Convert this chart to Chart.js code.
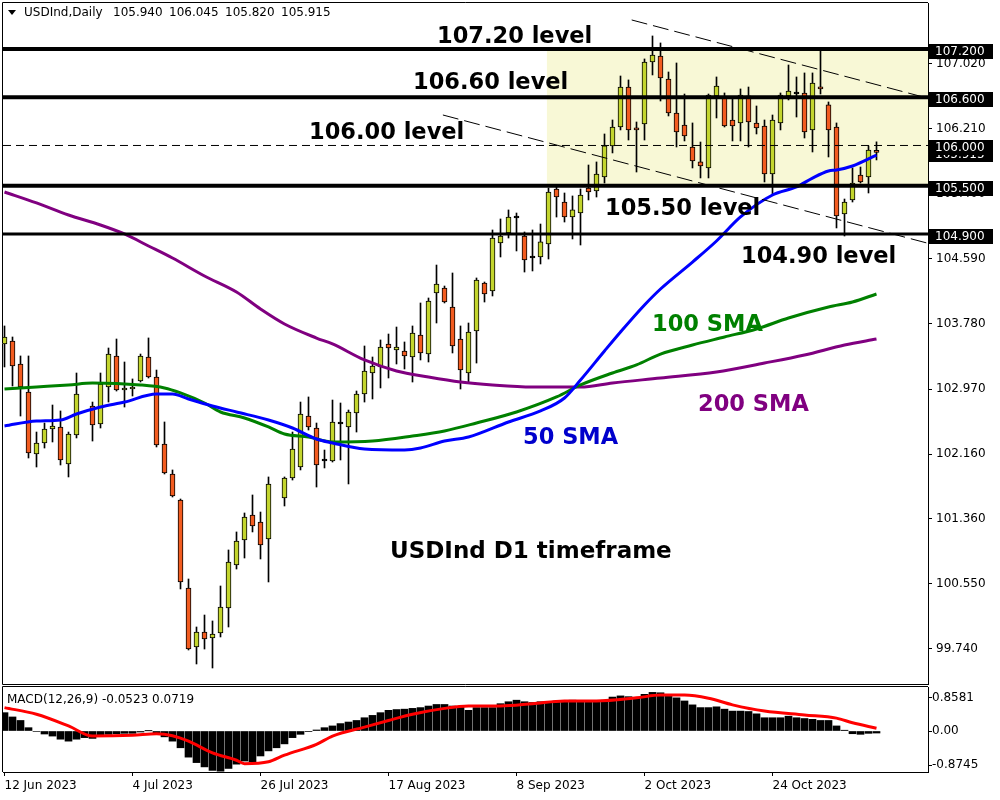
<!DOCTYPE html>
<html>
<head>
<meta charset="utf-8">
<script src="https://cdn.jsdelivr.net/npm/chart.js@4.4.0/dist/chart.umd.min.js"></script>
<style>
body { margin: 0; background: #fff; }
#wrap { position: relative; width: 1000px; height: 800px; background: #fff; }
#priceChart { position: absolute; left: 0; top: 0; }
#macdChart { position: absolute; left: 0; top: 685px; }
</style>
</head>
<body>
<div id="wrap">
<canvas id="priceChart" width="1000" height="687" style="width:1000px;height:687px"></canvas>
<canvas id="macdChart" width="1000" height="115" style="width:1000px;height:115px"></canvas>
</div>
<script>
// daily candles, one slot per bar (null = no candle visible)
var openP = [103.531, 103.568, 103.282, 102.934, 102.163, 102.300, 102.474, 102.499, 102.038, 102.399,
    null, 102.760, 102.536, 102.996, 103.382, 102.959, 102.971, 103.071, 103.369, 103.120,
    102.287, 101.914, 101.590, 100.496, 99.762, 99.949, 99.874, 99.936, 100.247, 100.782,
    101.093, 101.404, 101.317, 101.105, null, 101.615, 101.864, 102.001, 102.635, 102.486,
    102.076, 102.076, 102.536, 102.499, 102.673, 102.909, 103.170, 103.245, 103.531, 103.456,
    103.444, 103.369, 103.643, 103.406, 104.165, 104.227, 103.991, 103.593, 103.170, 103.693,
    104.290, 104.190, 104.787, 104.911, 105.098, 104.874, 104.600, 104.613, 104.775, 105.459,
    105.297, 105.110, 105.160, 105.471, 105.434, 105.608, 105.994, 106.230, 106.727, 106.217,
    106.267, 107.038, 107.113, 106.827, 106.404, 106.255, 105.981, 105.795, 105.720, 106.616,
    106.591, 106.317, 106.280, 106.616, 106.280, 106.242, 105.645, 106.280, 106.616, 106.640,
    106.653, 106.193, 106.727, 106.504, 106.230, 105.148, 105.322, 105.633, 105.608, 105.940];
var highP = [103.755, 103.618, 103.382, 103.382, 102.436, 102.548, 102.772, 102.698, 102.436, 103.170,
    null, 102.809, 103.170, 103.481, 103.593, 103.307, 103.096, 103.406, 103.606, 103.207,
    102.561, 101.964, 101.603, 100.608, 100.011, 100.160, 100.086, 100.521, 100.969, 101.193,
    101.429, 101.653, 101.441, 101.877, null, 101.877, 102.436, 102.809, 102.872, 102.548,
    102.212, 102.834, 102.797, 102.710, 102.946, 103.506, 103.369, 103.581, 103.655, 103.742,
    103.556, 103.755, 104.041, 104.103, 104.513, 104.252, 104.414, 103.755, 103.792, 104.352,
    104.302, 104.949, 105.086, 105.198, 105.160, 104.924, 104.949, 105.023, 105.471, 105.496,
    105.409, 105.372, 105.459, 105.757, 105.795, 106.143, 106.317, 106.864, 106.815, 106.292,
    107.076, 107.362, 107.275, 106.914, 107.026, 106.640, 106.280, 106.043, 106.640, 106.852,
    106.653, 106.578, 106.703, 106.727, 106.491, 106.317, 106.379, 106.653, 107.001, 106.852,
    106.902, 106.902, 107.188, 106.541, 106.280, 105.334, 105.720, 105.732, 105.994, 106.045];
var lowP = [103.245, 103.008, 102.635, 102.113, 102.001, 102.237, 102.312, 102.026, 101.877, 102.362,
    null, 102.324, 102.486, 102.809, 102.946, 102.747, 102.884, 103.058, 103.108, 102.250,
    101.914, 101.628, 100.484, 99.725, 99.551, 99.737, 99.501, 99.887, 100.011, 100.732,
    100.869, 101.193, 100.857, 100.571, null, 101.516, 101.839, 101.964, 102.461, 101.752,
    101.989, 102.063, 102.088, 101.790, 102.436, 102.809, 102.847, 102.984, 103.108, 103.282,
    103.220, 103.058, 103.332, 103.307, 103.792, 104.041, 103.419, 102.971, 103.058, 103.294,
    104.053, 104.128, 104.613, 104.849, 104.688, 104.426, 104.439, 104.526, 104.588, 105.110,
    105.048, 104.837, 104.762, 105.322, 105.359, 105.533, 105.907, 106.193, 106.068, 105.670,
    106.068, 106.877, 106.553, 106.367, 105.981, 106.056, 105.720, 105.596, 105.596, 106.342,
    106.230, 106.056, 106.056, 105.981, 106.143, 105.546, 105.397, 106.193, 106.566, 106.354,
    106.093, 105.919, 106.640, 105.857, 104.974, 104.874, 105.297, 105.533, 105.409, 105.820];
var closeP = [103.618, 103.257, 102.996, 102.175, 102.300, 102.474, 102.511, 102.088, 102.411, 102.909,
    null, 102.523, 103.033, 103.406, 102.959, 102.984, 102.996, 103.382, 103.120, 102.275,
    101.926, 101.640, 100.571, 99.737, 99.949, 99.862, 99.924, 100.260, 100.819, 101.081,
    101.379, 101.267, 101.031, 101.790, null, 101.864, 102.225, 102.660, 102.499, 102.026,
    102.076, 102.561, 102.536, 102.685, 102.909, 103.195, 103.257, 103.494, 103.481, 103.494,
    103.382, 103.668, 103.419, 104.066, 104.277, 104.053, 103.506, 103.207, 103.680, 104.327,
    104.153, 104.849, 104.874, 105.110, 105.098, 104.576, 104.600, 104.800, 105.421, 105.359,
    105.110, 105.198, 105.384, 105.421, 105.645, 105.994, 106.230, 106.727, 106.193, 106.193,
    107.038, 107.125, 106.839, 106.404, 106.168, 106.118, 105.807, 105.745, 106.628, 106.740,
    106.242, 106.242, 106.628, 106.292, 106.217, 105.645, 106.317, 106.628, 106.678, 106.640,
    106.168, 106.777, 106.703, 106.193, 105.123, 105.297, 105.533, 105.546, 105.944, 105.915];

// moving averages, read at a few bars each
var sma50Idx = [0, 4, 7, 9, 12, 15, 19, 21, 23, 26, 29, 33, 36, 39, 41, 45, 50, 52, 55, 58, 63, 67, 70, 72, 75, 77, 80, 82, 86, 89, 92, 96, 99, 101, 103, 104, 106, 109];
var sma50Val = [102.511, 102.573, 102.586, 102.660, 102.747, 102.809, 102.909, 102.909, 102.847, 102.760,
    102.685, 102.586, 102.486, 102.349, 102.300, 102.225, 102.213, 102.237, 102.324, 102.374,
    102.561, 102.698, 102.859, 103.083, 103.444, 103.680, 104.016, 104.215, 104.550, 104.812,
    105.111, 105.384, 105.484, 105.595, 105.683, 105.695, 105.745, 105.881];
var sma100Idx = [0, 4, 8, 11, 17, 20, 22, 25, 27, 30, 33, 35, 38, 41, 46, 51, 55, 59, 64, 69, 72, 76, 79, 82, 86, 90, 94, 98, 103, 106, 109];
var sma100Val = [102.971, 102.996, 103.021, 103.045, 103.021, 102.984, 102.922, 102.797, 102.685, 102.611,
    102.499, 102.411, 102.374, 102.312, 102.324, 102.386, 102.449, 102.548, 102.685, 102.872,
    103.021, 103.170, 103.270, 103.406, 103.518, 103.618, 103.718, 103.854, 103.991, 104.053, 104.153];
var sma200Idx = [0, 4, 8, 12, 15, 18, 21, 25, 29, 32, 35, 39, 41, 45, 49, 53, 57, 61, 66, 72, 76, 82, 89, 95, 100, 105, 109];
var sma200Val = [105.421, 105.285, 105.135, 105.011, 104.899, 104.750, 104.600, 104.377, 104.178, 103.966,
    103.780, 103.605, 103.531, 103.332, 103.195, 103.120, 103.058, 103.021, 102.996, 102.996,
    103.046, 103.108, 103.183, 103.294, 103.394, 103.518, 103.593];

// drawn objects
var levelPrices = [107.2, 106.6, 106.0, 105.5, 104.9];
var lastPrice = 105.915;
var zoneStart = 67.8;
var zonePrices = [107.2, 105.5];
var trendUpperIdx = [78.4, 115.3];
var trendUpperVal = [107.561, 106.591];
var trendLowerIdx = [54.8, 115.3];
var trendLowerVal = [106.379, 104.787];
var priceTicks = [107.020, 106.210, 105.400, 104.590, 103.780, 102.970, 102.160, 101.360, 100.550, 99.740];

// MACD(12,26,9)
var macdHist = [0.47, 0.36, 0.27, 0.085, -0.013, -0.077, -0.13, -0.21, -0.26, -0.21,
    -0.17, -0.19, -0.13, -0.085, -0.07, -0.06, -0.06, -0.026, 0.005, -0.07,
    -0.15, -0.26, -0.43, -0.67, -0.81, -0.92, -1.01, -1.03, -0.96, -0.85,
    -0.77, -0.79, -0.64, -0.51, -0.43, -0.33, -0.17, -0.085, -0.01, 0.026,
    0.085, 0.13, 0.19, 0.23, 0.27, 0.34, 0.40, 0.47, 0.53, 0.55,
    0.56, 0.58, 0.60, 0.64, 0.68, 0.68, 0.64, 0.62, 0.53, 0.60,
    0.60, 0.60, 0.70, 0.75, 0.79, 0.75, 0.73, 0.75, 0.75, 0.77,
    0.77, 0.79, 0.77, 0.77, 0.77, 0.79, 0.87, 0.90, 0.88, 0.85,
    0.94, 0.99, 0.98, 0.90, 0.85, 0.77, 0.67, 0.60, 0.60, 0.62,
    0.56, 0.51, 0.51, 0.50, 0.44, 0.34, 0.34, 0.34, 0.38, 0.34,
    0.32, 0.30, 0.27, 0.27, 0.13, 0.02, -0.07, -0.085, -0.06, -0.052];
var sigIdx = [0, 4, 8, 11, 16, 19, 21, 23, 26, 29, 30, 33, 35, 39, 41, 45, 48, 51, 55, 58, 62, 66, 70, 74, 79, 82, 85, 88, 91, 95, 100, 104, 106, 109];
var sigVal = [0.60, 0.43, 0.13, -0.13, -0.11, -0.07, -0.12, -0.26, -0.56, -0.75,
    -0.84, -0.79, -0.62, -0.34, -0.13, 0.10, 0.27, 0.43, 0.58, 0.64,
    0.64, 0.70, 0.77, 0.77, 0.85, 0.92, 0.92, 0.84, 0.67, 0.51,
    0.41, 0.33, 0.21, 0.072];
var macdTicks = [0.8581, 0, -0.8745];
var macdTickLabels = ['0.8581', '0.00', '-0.8745'];

var dateIdx = [0, 16, 32, 48, 64, 80, 96];
var dateLabels = ['12 Jun 2023', '4 Jul 2023', '26 Jul 2023', '17 Aug 2023', '8 Sep 2023', '2 Oct 2023', '24 Oct 2023'];

var upColor = '#C3D52E';
var downColor = '#F25C20';
var xMin = -0.1875, xMax = 115.4375;

Chart.defaults.font.family = '"DejaVu Sans", sans-serif';
Chart.defaults.font.size = 12;
Chart.defaults.color = '#000';

function pts(idx, val) {
    return idx.map(function (v, k) { return {x: v, y: val[k]}; });
}
function flat(p) {
    return [{x: xMin, y: p}, {x: xMax, y: p}];
}
// keep the plot edges where the frame is, labels may hang over
function fitRight(s) {
    s.width = 72;
    s.paddingTop = 0;
    s.paddingBottom = 0;
}

var wicks = [], bodies = [], bodyColors = [];
for (var i = 0; i < openP.length; i++) {
    if (openP[i] == null) continue;
    wicks.push({x: i, y: [lowP[i], highP[i]]});
    bodies.push({x: i, y: [openP[i], closeP[i]]});
    bodyColors.push(closeP[i] > openP[i] ? upColor : (closeP[i] < openP[i] ? downColor : '#000'));
}

function lineSet(data, color, width, order, dash) {
    return {
        type: 'line', data: data, borderColor: color, borderWidth: width,
        pointRadius: 0, fill: false, order: order, borderDash: dash || [],
        tension: 0.4, cubicInterpolationMode: 'monotone'
    };
}

var notes = [
    ['107.20 level', 437, 43, '#000'],
    ['106.60 level', 413, 89, '#000'],
    ['106.00 level', 309, 139, '#000'],
    ['105.50 level', 605, 215, '#000'],
    ['104.90 level', 741, 263, '#000'],
    ['100 SMA', 652, 331, '#008000'],
    ['200 SMA', 698, 411, '#800080'],
    ['50 SMA', 523, 444, '#0000CC']
];

var priceDecor = {
    id: 'priceDecor',
    beforeDatasetsDraw: function (chart) {
        var ctx = chart.ctx, sx = chart.scales.x, sy = chart.scales.y, a = chart.chartArea;
        var left = sx.getPixelForValue(zoneStart);
        var top = sy.getPixelForValue(zonePrices[0]);
        var bottom = sy.getPixelForValue(zonePrices[1]);
        ctx.save();
        ctx.fillStyle = '#F8F8D6';
        ctx.fillRect(left, top, a.right - left, bottom - top);
        ctx.restore();
    },
    afterDraw: function (chart) {
        var ctx = chart.ctx, sy = chart.scales.y, a = chart.chartArea;
        ctx.save();
        ctx.strokeStyle = '#000';
        ctx.lineWidth = 1;
        ctx.beginPath();
        ctx.moveTo(a.right, a.top - 0.5);
        ctx.lineTo(a.left - 0.5, a.top - 0.5);
        ctx.lineTo(a.left - 0.5, a.bottom + 0.5);
        ctx.lineTo(a.right, a.bottom + 0.5);
        ctx.stroke();

        // price boxes on the axis
        ctx.font = '12px "DejaVu Sans"';
        ctx.textBaseline = 'middle';
        ctx.textAlign = 'left';
        [lastPrice].concat(levelPrices).forEach(function (p) {
            var yy = Math.round(sy.getPixelForValue(p)) + 2;
            ctx.fillStyle = '#000';
            ctx.fillRect(a.right + 1, yy - 7, 64, 15);
            ctx.fillStyle = '#fff';
            ctx.fillText(p.toFixed(3), a.right + 7, yy + 1);
        });

        // header
        ctx.fillStyle = '#000';
        ctx.beginPath();
        ctx.moveTo(8, 10); ctx.lineTo(16, 10); ctx.lineTo(12, 15); ctx.closePath();
        ctx.fill();
        ctx.fillText('USDInd,Daily', 24, 13);
        ['105.940', '106.045', '105.820', '105.915'].forEach(function (t, k) {
            ctx.fillText(t, 113 + k * 56, 13);
        });

        // annotations
        ctx.textBaseline = 'alphabetic';
        ctx.font = 'bold 22.5px "DejaVu Sans"';
        notes.forEach(function (n) {
            ctx.fillStyle = n[3];
            ctx.fillText(n[0], n[1], n[2]);
        });
        ctx.fillStyle = '#000';
        ctx.font = 'bold 23px "DejaVu Sans"';
        ctx.fillText('USDInd D1 timeframe', 390, 558);
        ctx.restore();
    }
};

new Chart(document.getElementById('priceChart'), {
    type: 'bar',
    data: {
        datasets: [
            lineSet(flat(levelPrices[0]), '#000', 4, 1),
            lineSet(flat(levelPrices[1]), '#000', 4, 1),
            lineSet(flat(levelPrices[2]), '#000', 1, 1, [8, 5]),
            lineSet(flat(levelPrices[3]), '#000', 4, 1),
            lineSet(flat(levelPrices[4]), '#000', 3, 1),
            lineSet(pts(trendUpperIdx, trendUpperVal), '#000', 1, 2, [16, 6]),
            lineSet(pts(trendLowerIdx, trendLowerVal), '#000', 1, 2, [16, 6]),
            lineSet(pts(sma50Idx, sma50Val), '#0000FF', 3, 3),
            lineSet(pts(sma100Idx, sma100Val), '#008000', 3, 4),
            lineSet(pts(sma200Idx, sma200Val), '#800080', 3, 5),
            {
                type: 'bar', data: bodies, backgroundColor: bodyColors, borderColor: '#000',
                borderWidth: 1, borderSkipped: false, grouped: false,
                barThickness: 5, maxBarThickness: 5, minBarLength: 2, order: 9
            },
            {
                type: 'bar', data: wicks, backgroundColor: '#000', borderWidth: 0,
                grouped: false, barThickness: 1, maxBarThickness: 1, order: 10
            }
        ]
    },
    options: {
        responsive: false,
        animation: false,
        events: [],
        layout: {padding: {left: 3, top: 3, right: 0, bottom: 3}},
        plugins: {legend: {display: false}, tooltip: {enabled: false}},
        scales: {
            x: {type: 'linear', min: xMin, max: xMax, display: false, offset: false, grid: {offset: false}},
            y: {
                type: 'linear', position: 'right', min: 99.302, max: 107.772,
                afterFit: fitRight,
                afterBuildTicks: function (s) { s.ticks = priceTicks.map(function (v) { return {value: v}; }); },
                grid: {drawOnChartArea: false, drawTicks: true, tickLength: 4, color: '#000'},
                border: {display: true, color: '#000'},
                ticks: {
                    padding: 4, autoSkip: false, color: '#000',
                    callback: function (v) { return Number(v).toFixed(3); }
                }
            }
        }
    },
    plugins: [priceDecor]
});

var macdDecor = {
    id: 'macdDecor',
    afterDraw: function (chart) {
        var ctx = chart.ctx, a = chart.chartArea;
        ctx.save();
        ctx.strokeStyle = '#000';
        ctx.lineWidth = 1;
        ctx.beginPath();
        ctx.moveTo(a.right, a.top - 0.5);
        ctx.lineTo(a.left - 0.5, a.top - 0.5);
        ctx.lineTo(a.left - 0.5, a.bottom);
        ctx.stroke();
        ctx.fillStyle = '#000';
        ctx.font = '12px "DejaVu Sans"';
        ctx.textBaseline = 'middle';
        ctx.fillText('MACD(12,26,9) -0.0523 0.0719', 7, 15);
        ctx.restore();
    }
};

new Chart(document.getElementById('macdChart'), {
    type: 'bar',
    data: {
        datasets: [
            lineSet(pts(sigIdx, sigVal), '#FF0000', 3, 0),
            {
                type: 'bar', data: macdHist.map(function (v, k) { return {x: k, y: v}; }),
                backgroundColor: '#000', borderWidth: 0, barThickness: 7, order: 5
            }
        ]
    },
    options: {
        responsive: false,
        animation: false,
        events: [],
        layout: {padding: {left: 3, top: 2, right: 0, bottom: 0}},
        plugins: {legend: {display: false}, tooltip: {enabled: false}},
        scales: {
            x: {
                type: 'linear', min: xMin, max: xMax, offset: false,
                afterFit: function (s) { s.height = 28; s.paddingLeft = 0; s.paddingRight = 0; },
                afterBuildTicks: function (s) { s.ticks = dateIdx.map(function (v) { return {value: v}; }); },
                grid: {drawOnChartArea: false, drawTicks: true, tickLength: 4, color: '#000', offset: false},
                border: {display: true, color: '#000'},
                ticks: {
                    autoSkip: false, maxRotation: 0, align: 'start', padding: 3, color: '#000',
                    callback: function (v, k) { return dateLabels[k]; }
                }
            },
            y: {
                type: 'linear', position: 'right', min: -1.051, max: 1.128,
                afterFit: fitRight,
                afterBuildTicks: function (s) { s.ticks = macdTicks.map(function (v) { return {value: v}; }); },
                grid: {drawOnChartArea: false, drawTicks: true, tickLength: 4, color: '#000'},
                border: {display: true, color: '#000'},
                ticks: {
                    padding: 0, autoSkip: false, color: '#000',
                    callback: function (v, k) { return macdTickLabels[k]; }
                }
            }
        }
    },
    plugins: [macdDecor]
});
</script>
</body>
</html>
